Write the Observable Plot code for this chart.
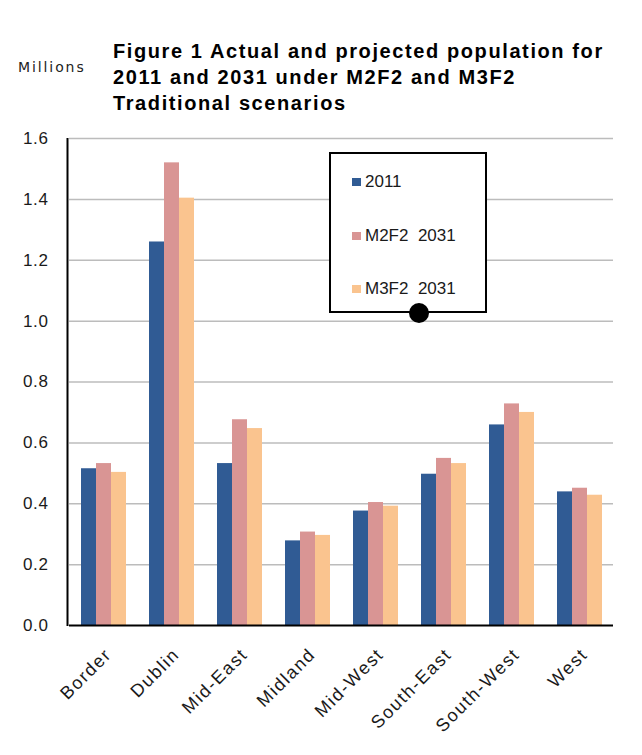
<!DOCTYPE html>
<html>
<head>
<meta charset="utf-8">
<script src="https://cdn.jsdelivr.net/npm/d3@7"></script>
<script src="https://cdn.jsdelivr.net/npm/@observablehq/plot@0.6"></script>
<style>
  html, body { margin: 0; padding: 0; background: #fff; }
  #wrap { position: relative; width: 642px; height: 755px; font-family: "Liberation Sans", Arial, sans-serif; color: #1a1a1a; }
  #head { position: relative; height: 120px; }
  #millions { position: absolute; left: 18px; top: 59px; font-family: "DejaVu Sans", Verdana, sans-serif; font-size: 14px; letter-spacing: 1.9px; color: #222; }
  #title { position: absolute; left: 113px; top: 38px; font-weight: bold; font-size: 20px; line-height: 26px; letter-spacing: 1.6px; color: #000; white-space: nowrap; }
  #legend { position: absolute; left: 329px; top: 152px; width: 154px; height: 157px; border: 2px solid #000; background: #fff; }
  .item { position: absolute; left: 21px; font-size: 17px; line-height: 17px; white-space: pre; }
  .sw { display: inline-block; width: 9px; height: 8px; margin-right: 4px; vertical-align: 1px; }
  #dot { position: absolute; left: 409px; top: 303px; width: 20px; height: 20px; border-radius: 50%; background: #000; }
</style>
</head>
<body>
<div id="wrap">
  <div id="head">
    <div id="millions"></div>
    <div id="title"></div>
  </div>
  <div id="chart"></div>
  <div id="legend"></div>
  <div id="dot"></div>
</div>
<script>
const titleLines = ["Figure 1 Actual and projected population for", "2011 and 2031 under M2F2 and M3F2", "Traditional scenarios"];
const yUnit = "Millions";
const regions = ["Border", "Dublin", "Mid-East", "Midland", "Mid-West", "South-East", "South-West", "West"];
const series = ["2011", "M2F2  2031", "M3F2  2031"];
const colors = ["#305B94", "#D99594", "#FAC48F"];
const pop2011 = [0.515, 1.260, 0.532, 0.278, 0.376, 0.497, 0.659, 0.439];
const popM2F2 = [0.532, 1.520, 0.676, 0.307, 0.404, 0.549, 0.728, 0.451];
const popM3F2 = [0.503, 1.404, 0.647, 0.296, 0.392, 0.532, 0.700, 0.428];
const yTicks = [0, 0.2, 0.4, 0.6, 0.8, 1.0, 1.2, 1.4, 1.6];

document.getElementById("millions").textContent = yUnit;
document.getElementById("title").innerHTML = titleLines.map(t => `<div>${t}</div>`).join("");

const values = [pop2011, popM2F2, popM3F2];
const data = regions.flatMap((r, i) => series.map((s, j) => ({region: r, series: s, value: values[j][i]})));

const hasAxisMarks = typeof Plot.axisFx === "function";

const marks = [
  Plot.ruleY(yTicks.slice(1), {stroke: "#bcbcbc", strokeWidth: 1.5}),
  Plot.barY(data, {x: "series", y: "value", fill: "series"}),
  Plot.ruleY([0], {stroke: "#000", strokeWidth: 2})
];
if (hasAxisMarks) {
  marks.push(Plot.axisFx({anchor: "bottom", tickRotate: -45, tickSize: 0, tickPadding: 26, dx: 5, label: null, fill: "#1a1a1a", fontSize: 18}));
}

const chart = Plot.plot({
  width: 642,
  height: 635,
  marginTop: 18,
  marginBottom: 130,
  marginLeft: 67,
  marginRight: 27,
  style: {fontFamily: "'Liberation Sans', Arial, sans-serif", fontSize: "17px", color: "#1a1a1a", background: "transparent", overflow: "visible"},
  facet: {data, x: "region"},
  fx: {domain: regions, padding: 0, label: null, axis: hasAxisMarks ? null : "bottom", tickRotate: -45, tickSize: 0, tickPadding: 26},
  x: {type: "band", domain: series, paddingInner: 0, paddingOuter: 0.68, axis: null},
  y: {domain: [0, 1.6], ticks: yTicks, tickFormat: d => d.toFixed(1), tickSize: 0, tickPadding: 21, label: null},
  color: {domain: series, range: colors},
  marks
});
document.getElementById("chart").appendChild(chart);

// left axis line using the plot's y scale
const ys = chart.scale("y");
d3.select(chart).append("line")
  .attr("x1", 67.5).attr("x2", 67.5)
  .attr("y1", ys.apply(0) + 1).attr("y2", ys.apply(1.6))
  .attr("stroke", "#000").attr("stroke-width", 2);
d3.select(chart).selectAll("text").style("letter-spacing", "0.6px").style("font-size", "17px");
d3.select(chart).selectAll('g[aria-label="fx-axis tick label"] text').style("letter-spacing", "1.6px").style("font-size", "18px");

// legend
const legend = document.getElementById("legend");
const rowTops = [19, 73, 126];
series.forEach((s, i) => {
  const d = document.createElement("div");
  d.className = "item";
  d.style.top = rowTops[i] + "px";
  d.innerHTML = `<span class="sw" style="background:${colors[i]}"></span>${s}`;
  legend.appendChild(d);
});
</script>
</body>
</html>
